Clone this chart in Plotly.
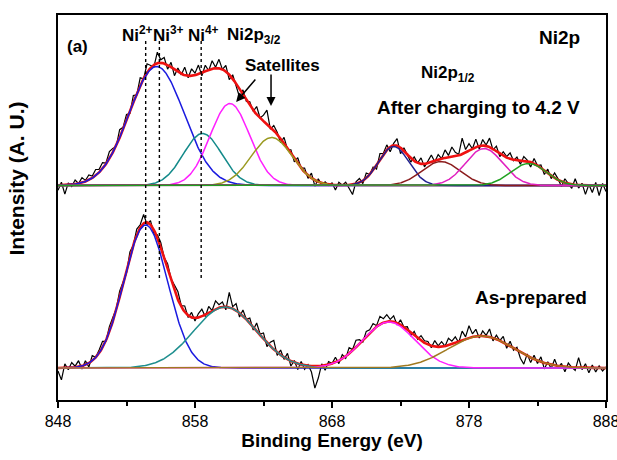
import numpy as np
import plotly.graph_objects as go

# ---------------- data ----------------
energy_start, energy_step = 848.0, 0.25
# offsets (baselines) of the two stacked spectra, arbitrary units
upper_offset = 214.5
lower_offset = 32.0

# fitted components: centre (eV), height, sigma (eV)
upper_centres = [855.2, 858.55, 860.55, 863.6, 872.5, 875.95, 879.1, 882.35]
upper_heights = [119, 52, 82, 48, 39, 24, 37, 22]
upper_sigmas = [2.0, 1.4, 1.45, 1.5, 1.1, 1.4, 1.35, 1.3]
upper_colors = ["#1a1adf", "#138a8a", "#ff20ff", "#9a9a20", "#202090", "#8b1c1c", "#e020c0", "#20a020"]

lower_centres = [854.4, 860.2, 872.15, 878.9]
lower_heights = [143, 61, 46, 32]
lower_sigmas = [1.6, 2.3, 1.9, 2.4]
lower_colors = ["#1a1adf", "#1f8f8f", "#ff20ff", "#a07a20"]

upper_resid = [
    -5, 3, -9, 2, -2, 4, 0, 5, 1, 5, 2, 6, 3, 6, 1, 7, 4, -1, 8, 2,
    6, -2, 7, -1, 8, 0, 9, 3, -2, 11, 3, 6, -4, 5, -6, 4, -1, 8, -2, 7,
    2, 9, -3, 6, -1, 8, 1, 9, 0, 6, -5, 4, -2, -8, 5, -1, 4, -1, 8, 0,
    6, 14, -2, 5, 2, -4, 6, -1, 4, -3, 6, 0, 4, -3, 5, -6, 3, -2, 2, -1,
    2, -5, 3, 0, 3, -4, -10, 2, 4, -3, 5, 0, 3, -4, 6, 1, 5, -5, 2, 7,
    -6, 3, -1, -4, 4, 0, 6, -3, 2, 7, -1, 5, 0, 8, 2, 10, 4, 1, 16, 3,
    7, 0, 8, -3, 6, 1, 9, -1, 5, -3, 4, 1, 6, -1, 3, -4, 4, 1, -5, 5,
    0, 3, -4, 4, -3, 5, 1, -5, 4, 0, -4, 6, -3, 2, -9, 1, -7, 3, -10, 2,
    -6,
]
lower_resid = [
    -3, -12, 4, -2, 5, 1, 6, -3, 4, -4, 5, 0, 3, 6, -1, 5, 4, 1, 6, 2,
    -3, 5, 0, 6, 3, 9, -2, 4, -4, 3, 5, 1, 6, 2, 5, 8, 1, 6, -2, 5,
    -3, 4, 7, -2, 6, 0, 8, 3, 5, -3, 15, 2, 7, -4, 6, 0, 5, -3, 8, 1,
    6, -4, 4, 9, -3, 5, -2, 6, -5, 2, -6, 3, -4, 1, -6, -22, -12, 2, -5, 3,
    0, 5, -3, 4, -2, 6, 1, 7, 4, -2, 5, 3, 6, 1, 8, 4, 7, 2, 6, -2,
    5, 0, 3, -3, 4, -1, 5, 2, 3, -2, 6, 1, 5, 0, 7, 3, 6, -1, 9, 2,
    12, 3, 7, -2, 5, 1, 8, -3, 4, 0, 6, -4, 5, -2, 3, -6, -10, 2, -5, 4,
    -3, 5, -6, 2, -4, 6, -2, 3, -5, 4, 0, -3, 10, -2, 4, -5, 3, -4, 2, -3,
    1,
]

# oxidation-state marker energies
state_labels = ["Ni<sup>2+</sup>", "Ni<sup>3+</sup>", "Ni<sup>4+</sup>"]
state_energies = [854.4, 855.4, 858.45]
marker_bottom, marker_top = 122, 360

x_ticks = [848, 858, 868, 878, 888]

# ---------------- build ----------------
E = energy_start + energy_step * np.arange(len(upper_resid))
Ef = np.linspace(848, 888, 801)


def comp(x, c, h, s):
    return h * np.exp(-0.5 * ((x - c) / s) ** 2)


def components(x, cs, hs, ss):
    return [comp(x, c, h, s) for c, h, s in zip(cs, hs, ss)]


FONT = "Liberation Sans"
fig = go.Figure()

for cs, hs, ss, cols, off, resid in [
    (upper_centres, upper_heights, upper_sigmas, upper_colors, upper_offset, upper_resid),
    (lower_centres, lower_heights, lower_sigmas, lower_colors, lower_offset, lower_resid),
]:
    fit_coarse = sum(components(E, cs, hs, ss))
    raw = off + fit_coarse + np.array(resid)
    fig.add_trace(go.Scatter(x=E, y=raw, mode="lines", line=dict(color="black", width=1.2),
                             hoverinfo="skip"))
    comps = components(Ef, cs, hs, ss)
    env = off + sum(comps)
    fig.add_trace(go.Scatter(x=Ef, y=env, mode="lines", line=dict(color="#ee1111", width=2.6),
                             hoverinfo="skip"))
    for cc, col in zip(comps, cols):
        fig.add_trace(go.Scatter(x=Ef, y=off + cc, mode="lines", line=dict(color=col, width=1.5),
                                 hoverinfo="skip"))

for e in state_energies:
    fig.add_shape(type="line", x0=e, x1=e, y0=marker_bottom, y1=marker_top, xref="x", yref="y",
                  line=dict(color="black", width=1.4, dash="dot"))

def txt(x, y, t, size=15, xanchor="center"):
    fig.add_annotation(x=x, y=y, text=t, showarrow=False, xanchor=xanchor, yanchor="middle",
                       font=dict(family=FONT, size=size, color="black", weight="bold"))

txt(849.45, 354, "(a)", 17)
label_x = [853.8, 856.05, 858.62]
for lx, lab in zip(label_x, state_labels):
    txt(lx, 366, lab, 17)
txt(862.3, 364, "Ni2p<sub>3/2</sub>", 17)
txt(864.4, 335, "Satellites", 17)
txt(884.6, 363, "Ni2p", 19)
txt(876.5, 326, "Ni2p<sub>1/2</sub>", 17)
txt(878.66, 293, "After charging to 4.2 V", 19)
txt(882.5, 103, "As-prepared", 19)

for (tx, ty, hx, hy) in [(862.5, 322, 861.0, 298), (863.55, 327, 863.55, 294)]:
    fig.add_annotation(x=hx, y=hy, ax=tx, ay=ty, axref="x", ayref="y", xref="x", yref="y",
                       text="", showarrow=True, arrowhead=2, arrowsize=1.2, arrowwidth=1.5,
                       arrowcolor="black")

# y-axis title drawn as rotated annotation (sits above the axis centre in the original)
fig.add_annotation(x=-0.075, y=0.575, xref="paper", yref="paper", text="Intensity (A. U.)",
                   textangle=-90, showarrow=False, xanchor="center", yanchor="middle",
                   font=dict(family=FONT, size=21, color="black", weight="bold"))

fig.update_layout(
    width=617, height=460,
    margin=dict(l=58, r=11, t=15, b=60),
    paper_bgcolor="white", plot_bgcolor="white",
    showlegend=False,
    font=dict(family=FONT, color="black"),
)
fig.update_xaxes(
    automargin=False, ticklabeloverflow="allow",
    range=[848, 888], tickvals=x_ticks, ticks="outside", ticklen=6, tickwidth=1.5,
    tickcolor="black", showline=True, linecolor="black", linewidth=1.5, mirror=True,
    showgrid=False, zeroline=False,
    tickfont=dict(family=FONT, size=16, color="black"),
    minor=dict(dtick=5, tick0=848, ticks="outside", ticklen=4, tickwidth=1.5, tickcolor="black"),
    title=dict(text="Binding Energy (eV)", standoff=4,
               font=dict(family=FONT, size=19, color="black", weight="bold")),
)
fig.update_yaxes(
    automargin=False,
    range=[0, 385], showticklabels=False, ticks="", showline=True, linecolor="black",
    linewidth=1.5, mirror=True, showgrid=False, zeroline=False,
)

fig.write_html(
    "out.html",
    config={"displayModeBar": False},
    post_script="document.body.style.margin='0';document.body.style.overflow='hidden';",
)
